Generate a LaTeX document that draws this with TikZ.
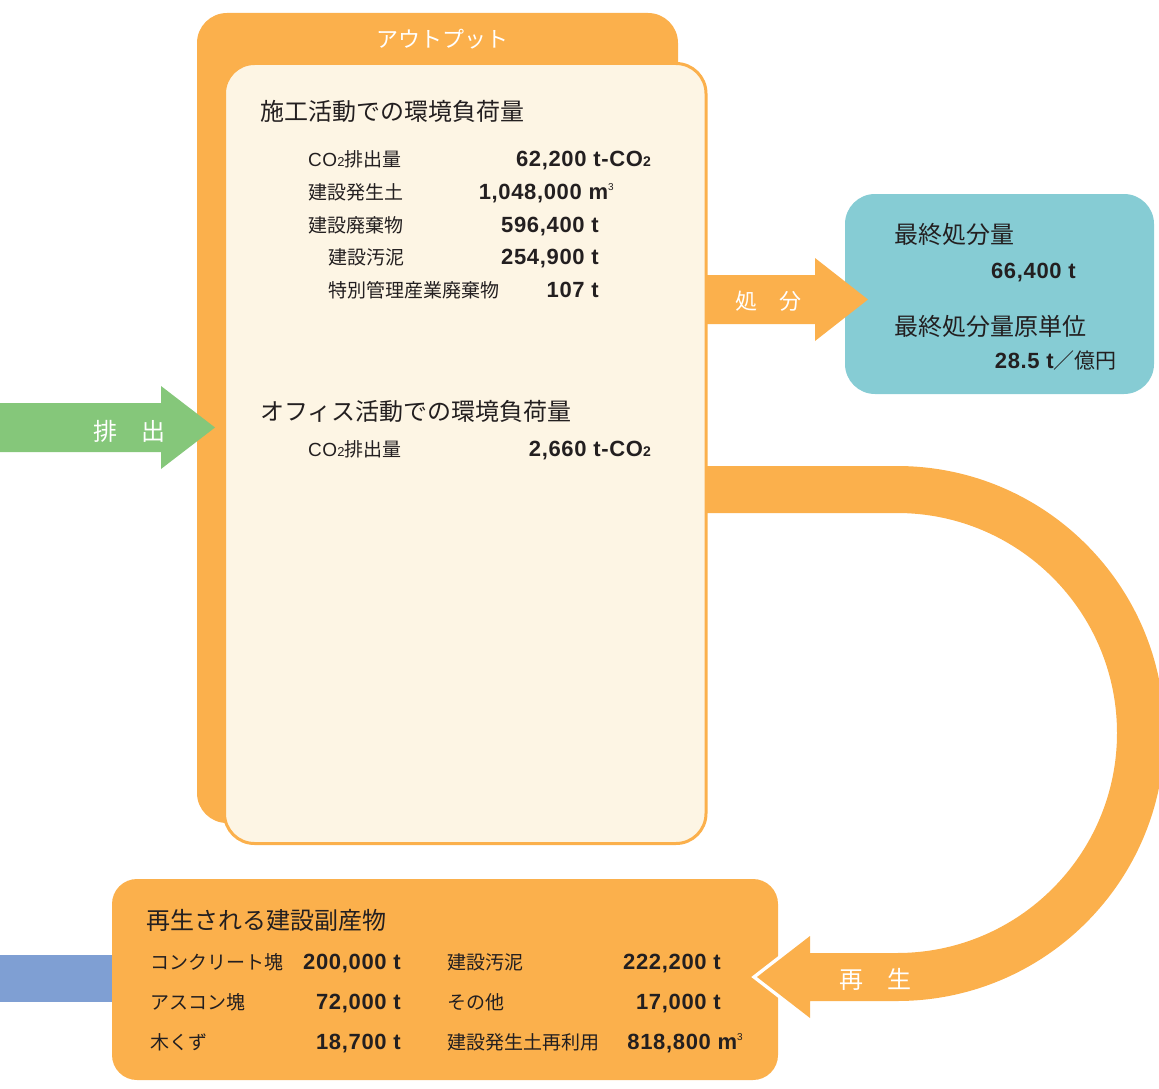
\documentclass[tikz,border=0pt]{standalone}
\usepackage{fontspec}
\setmainfont{Noto Sans CJK JP}
\newfontfamily\numfont{Liberation Sans}[LetterSpace=3]
\definecolor{orng}{RGB}{251,176,76}
\definecolor{cream}{RGB}{253,245,228}
\definecolor{teal}{RGB}{134,204,212}
\definecolor{grn}{RGB}{133,199,122}
\definecolor{blu}{RGB}{127,159,211}
\definecolor{ink}{RGB}{35,31,32}
\newcommand{\subtwo}{{\fontsize{14}{14}\selectfont 2}}
\newcommand{\cubic}{\raisebox{9pt}{\mdseries\fontsize{10}{10}\selectfont 3}}
\newcommand{\cotwo}{{\numfont CO{\fontsize{13}{13}\selectfont 2}}}
\begin{document}
\begin{tikzpicture}[x=1pt,y=-1pt,
  panel/.style={anchor=north west, inner sep=0pt, outer sep=0pt},
  lab/.style={anchor=base west, inner sep=0pt, text=ink, font=\fontsize{19}{19}\selectfont},
  hd/.style={anchor=base west, inner sep=0pt, text=ink, font=\fontsize{24}{24}\selectfont},
  val/.style={anchor=base east, inner sep=0pt, text=ink, font=\numfont\bfseries\fontsize{22}{22}\selectfont},
  wl/.style={anchor=base, inner sep=0pt, text=white, font=\fontsize{24}{24}\selectfont}]
\useasboundingbox (0,0) rectangle (1159,1089);
% back panel
\node[panel, fill=orng, rounded corners=30pt, minimum width=481pt, minimum height=810pt] (back) at (197,13) {};
% front panel
\node[panel, fill=cream, draw=orng, line width=3pt, rounded corners=30pt, minimum width=481.5pt, minimum height=780pt] (front) at (224.5,63.5) {};
% green input arrow
\fill[grn] (0,403) -- (161,403) -- (161,386) -- (215,427.5) -- (161,469) -- (161,452) -- (0,452) -- cycle;
% teal box
\node[panel, fill=teal, rounded corners=30pt, minimum width=309pt, minimum height=200pt] (disp) at (845,194) {};
% disposal arrow
\fill[orng] (706,275) -- (815,275) -- (815,258) -- (868,299.5) -- (815,341) -- (815,324) -- (706,324) -- cycle;
% blue bar and bottom box
\node[panel, fill=blu, minimum width=114pt, minimum height=47pt] (bluebar) at (0,955) {};
\node[panel, fill=orng, rounded corners=25pt, minimum width=666pt, minimum height=201pt] (recyc) at (112,879) {};
% recycle band
\draw[white, line width=7pt, line join=miter] (810,1018) -- (757,977) -- (810,936);
\fill[orng] (706,466) -- (897,466) arc[start angle=-90, end angle=90, radius=267.5] -- (810,1001) -- (810,1018) -- (757,977) -- (810,936) -- (810,953) -- (897,953) arc[start angle=90, end angle=-90, radius=220] -- (706,513) -- cycle;
% arrow labels
\node[wl] (lout) at (442,48) {\fontsize{22}{22}\selectfont アウトプット};
\node[wl] (lhai) at (129,440) {排　出};
\node[wl] (lsho) at (768,309) {\fontsize{22}{22}\selectfont 処　分};
\node[wl] (lsai) at (875,988) {再　生};
% construction
\node[hd] (h1) at (260,121) {施工活動での環境負荷量};
\node[lab] (a1) at (308,167) {\cotwo 排出量};
\node[val] (v1) at (651,167) {62,200 t-CO\subtwo};
\node[lab] (a2) at (308,199) {建設発生土};
\node[val] (v2) at (614,199) {1,048,000 m\cubic};
\node[lab] (a3) at (308,232) {建設廃棄物};
\node[val] (v3) at (599,232) {596,400 t};
\node[lab] (a4) at (328,264) {建設汚泥};
\node[val] (v4) at (599,264) {254,900 t};
\node[lab] (a5) at (328,297) {特別管理産業廃棄物};
\node[val] (v5) at (599,297) {107 t};
% office
\node[hd] (h2) at (260,420) {オフィス活動での環境負荷量};
\node[lab] (b1) at (308,456) {\cotwo 排出量};
\node[val] (w1) at (651,456) {2,660 t-CO\subtwo};
% disposal box
\node[hd] (h3) at (894,243) {最終処分量};
\node[val] (d1) at (1076,278) {66,400 t};
\node[hd] (h4) at (894,335) {最終処分量原単位};
\node[val] (d2) at (1117,368) {28.5 t{\rmfamily\mdseries\fontsize{21}{21}\selectfont ／億円}};
% recycled
\node[hd] (h5) at (146,929) {再生される建設副産物};
\node[lab] (r1) at (150,969) {コンクリート塊};
\node[val] (s1) at (401,969) {200,000 t};
\node[lab] (r2) at (150,1009) {アスコン塊};
\node[val] (s2) at (401,1009) {72,000 t};
\node[lab] (r3) at (150,1049) {木くず};
\node[val] (s3) at (401,1049) {18,700 t};
\node[lab] (r4) at (447,969) {建設汚泥};
\node[val] (s4) at (721,969) {222,200 t};
\node[lab] (r5) at (447,1009) {その他};
\node[val] (s5) at (721,1009) {17,000 t};
\node[lab] (r6) at (447,1049) {建設発生土再利用};
\node[val] (s6) at (743,1049) {818,800 m\cubic};
\end{tikzpicture}
\end{document}
